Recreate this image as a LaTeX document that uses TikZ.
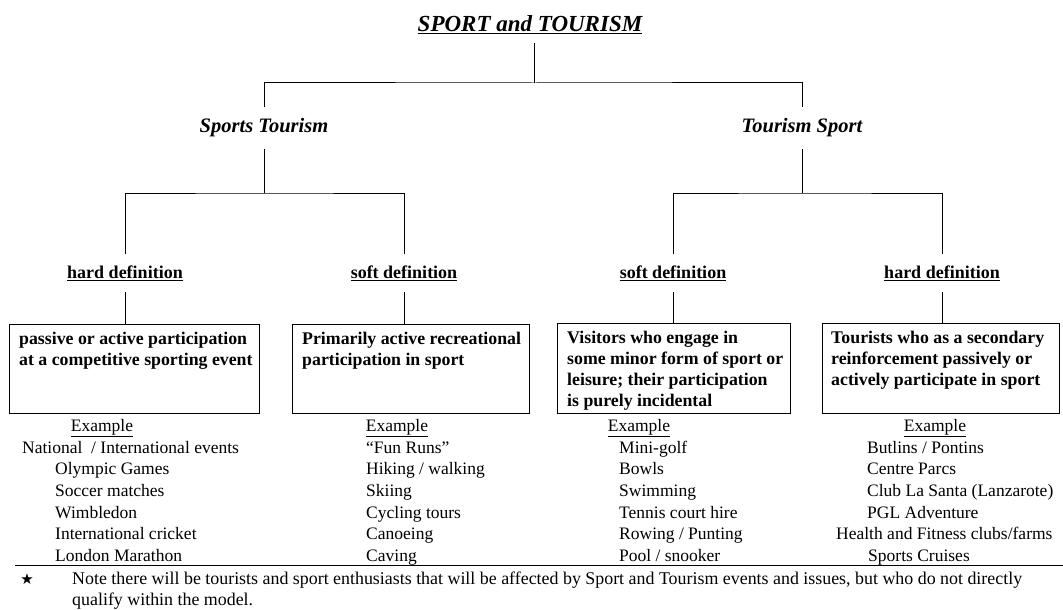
\documentclass[tikz,border=0pt]{standalone}
\usepackage{fontspec}
\setmainfont{Liberation Serif}
\newfontfamily\symfont{DejaVu Sans}

\tikzset{
  treeline/.style={line width=1pt},
  headline/.style={font=\fontsize{23}{26}\selectfont\bfseries\itshape, inner ysep=9pt},
  branch/.style={font=\fontsize{20.5}{24}\selectfont\bfseries\itshape, inner ysep=12pt},
  deflabel/.style={font=\fontsize{18}{21}\selectfont\bfseries, inner ysep=11pt},
  defbox/.style={draw, line width=1pt, anchor=north west, inner sep=0pt},
  boxtext/.style={font=\fontsize{17.8}{21}\selectfont\bfseries, align=left, anchor=north west, inner sep=0pt},
  exhead/.style={font=\fontsize{17.5}{21.7}\selectfont, anchor=base, inner sep=0pt},
  item/.style={font=\fontsize{17.5}{21.7}\selectfont, anchor=base west, inner sep=0pt},
}

\begin{document}
\begin{tikzpicture}[x=1pt,y=-1pt]
\useasboundingbox (0,0) rectangle (1063,610);

% top of the tree
\node[headline] (title) at (530,25) {\underline{SPORT and TOURISM}};
\node[branch] (st) at (264,128) {Sports Tourism};
\node[branch] (ts) at (802,128) {Tourism Sport};
\coordinate (j0) at (534,83);
\draw[treeline] (title.south -| j0) -- (j0);
\draw[treeline] (st) |- (j0) -| (ts);

% definitions
\node[deflabel] (hd1) at (125,273) {\underline{hard definition}};
\node[deflabel] (sd1) at (404,273) {\underline{soft definition}};
\node[deflabel] (sd2) at (673,273) {\underline{soft definition}};
\node[deflabel] (hd2) at (942,273) {\underline{hard definition}};
\coordinate (j1) at (264,193);
\coordinate (j2) at (802,193);
\draw[treeline] (st) -- (j1);
\draw[treeline] (hd1) |- (j1) -| (sd1);
\draw[treeline] (ts) -- (j2);
\draw[treeline] (sd2) |- (j2) -| (hd2);

% boxes
\node[defbox, minimum width=250pt, minimum height=89pt] (box1) at (9,324) {};
\node[defbox, minimum width=237pt, minimum height=89pt] (box2) at (292,324) {};
\node[defbox, minimum width=233pt, minimum height=90pt] (box3) at (557,323) {};
\node[defbox, minimum width=237pt, minimum height=90pt] (box4) at (822,323) {};
\draw[treeline] (hd1) -- (hd1 |- box1.north);
\draw[treeline] (sd1) -- (sd1 |- box1.north);
\draw[treeline] (sd2) -- (sd2 |- box3.north);
\draw[treeline] (hd2) -- (hd2 |- box4.north);

\node[boxtext] (t1) at (19,332) {passive or active participation\\at a competitive sporting event};
\node[boxtext] (t2) at (302,332) {Primarily active recreational\\participation in sport};
\node[boxtext] (t3) at (567,331) {Visitors who engage in\\some minor form of sport or\\leisure; their participation\\is purely incidental};
\node[boxtext] (t4) at (831,331) {Tourists who as a secondary\\reinforcement passively or\\actively participate in sport};

% examples
\node[exhead] (ex1) at (102,431) {\underline{Example}};
\node[exhead] (ex2) at (397,431) {\underline{Example}};
\node[exhead] (ex3) at (639,431) {\underline{Example}};
\node[exhead] (ex4) at (935,431) {\underline{Example}};

\node[item] (a0) at (22,453) {National \ / International events};
\foreach \t [count=\i] in {Olympic Games, Soccer matches, Wimbledon, International cricket, London Marathon}
  \node[item] (a\i) at (55,453+21.7*\i) {\t};
\foreach \t [count=\i from 0] in {“Fun Runs”, Hiking / walking, Skiing, Cycling tours, Canoeing, Caving}
  \node[item] (b\i) at (366,453+21.7*\i) {\t};
\foreach \t [count=\i from 0] in {Mini-golf, Bowls, Swimming, Tennis court hire, Rowing / Punting, Pool / snooker}
  \node[item] (c\i) at (619,453+21.7*\i) {\t};
\foreach \t [count=\i from 0] in {Butlins / Pontins, Centre Parcs, Club La Santa (Lanzarote), PGL Adventure}
  \node[item] (d\i) at (867,453+21.7*\i) {\t};
\node[item] (d4) at (836,453+21.7*4) {Health and Fitness clubs/farms};
\node[item] (d5) at (868,453+21.7*5) {Sports Cruises};

% footnote
\draw[line width=1pt] (15,565) -- (1063,565);
\node[font=\symfont\fontsize{15}{17}\selectfont, inner sep=0pt] (star) at (27,579) {★};
\node[item, font=\fontsize{17.9}{21.7}\selectfont] (note1) at (72,584) {Note there will be tourists and sport enthusiasts that will be affected by Sport and Tourism events and issues, but who do not directly};
\node[item, font=\fontsize{17.9}{21.7}\selectfont] (note2) at (72,605) {qualify within the model.};
\end{tikzpicture}
\end{document}
